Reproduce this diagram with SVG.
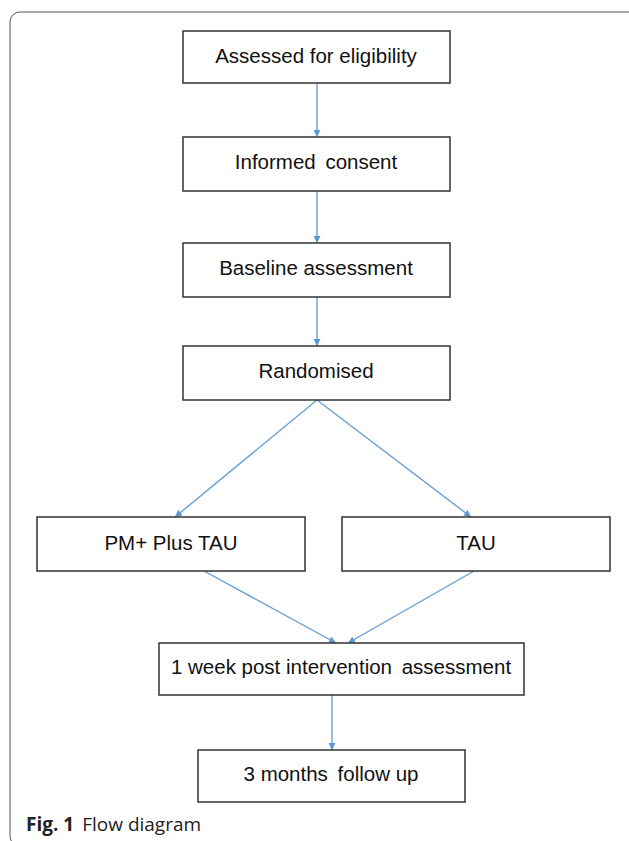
<svg xmlns="http://www.w3.org/2000/svg" width="629" height="841" viewBox="0 0 629 841">
<style>
.box{fill:#fff;stroke:#333;stroke-width:1.5}
.lbl{font-family:"Liberation Sans",Arial,sans-serif;font-size:20.5px;fill:#111;text-anchor:middle}
.con{stroke:#6a9fd4;stroke-width:1.4;fill:none;marker-end:url(#ah)}
.cap{font-family:"Open Sans","Liberation Sans",sans-serif;font-size:19px;fill:#222}
</style>
<defs>
<marker id="ah" viewBox="0 0 10 10" refX="10" refY="5" markerWidth="7" markerHeight="7" markerUnits="userSpaceOnUse" orient="auto">
<path d="M0,0 L10,5 L0,10 z" fill="#5b97d2"/>
</marker>
</defs>
<rect width="629" height="841" fill="#fff"/>
<rect x="10" y="12" width="640" height="834" rx="10" fill="none" stroke="#555" stroke-width="1"/>
<g id="connectors">
<line class="con" x1="317" y1="83" x2="317" y2="137"/>
<line class="con" x1="317" y1="191" x2="317" y2="243"/>
<line class="con" x1="317" y1="297" x2="317" y2="346"/>
<line class="con" x1="317" y1="400" x2="175" y2="517"/>
<line class="con" x1="317" y1="400" x2="471" y2="517"/>
<line class="con" x1="204" y1="571" x2="336" y2="643"/>
<line class="con" x1="474" y1="571" x2="348" y2="643"/>
<line class="con" x1="332" y1="695" x2="332" y2="750"/>
</g>
<g id="n1"><rect class="box" x="183" y="31" width="267" height="52"/><text class="lbl" x="316" y="63">Assessed for eligibility</text></g>
<g id="n2"><rect class="box" x="183" y="137" width="267" height="54"/><text class="lbl" x="316" y="169">Informed<tspan dx="4"> consent</tspan></text></g>
<g id="n3"><rect class="box" x="183" y="243" width="267" height="54"/><text class="lbl" x="316" y="275">Baseline assessment</text></g>
<g id="n4"><rect class="box" x="183" y="346" width="267" height="54"/><text class="lbl" x="316" y="378">Randomised</text></g>
<g id="n5"><rect class="box" x="37" y="517" width="268" height="54"/><text class="lbl" x="171" y="550">PM+ Plus TAU</text></g>
<g id="n6"><rect class="box" x="342" y="517" width="268" height="54"/><text class="lbl" x="476" y="550">TAU</text></g>
<g id="n7"><rect class="box" x="159" y="643" width="365" height="52"/><text class="lbl" x="341" y="674">1 week post intervention<tspan dx="4"> assessment</tspan></text></g>
<g id="n8"><rect class="box" x="198" y="750" width="267" height="52"/><text class="lbl" x="331" y="781">3 months<tspan dx="4"> follow up</tspan></text></g>
<text class="cap" x="26" y="831"><tspan font-weight="bold">Fig. 1</tspan><tspan dx="8">Flow diagram</tspan></text>
</svg>
